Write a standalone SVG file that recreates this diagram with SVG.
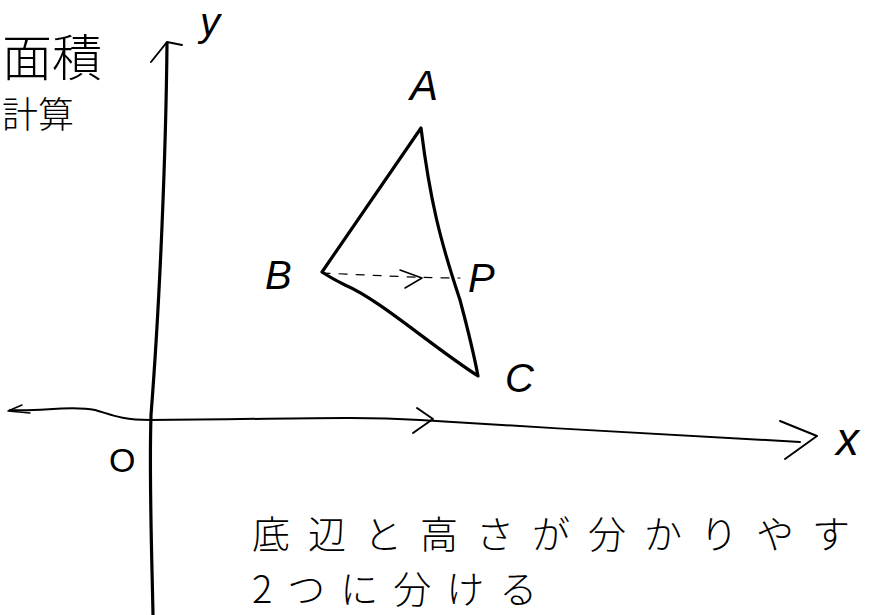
<svg xmlns="http://www.w3.org/2000/svg" width="880" height="615" viewBox="0 0 880 615">
<style>
.ln{fill:none;stroke:#000;stroke-linecap:round;stroke-linejoin:round}
.lbl{font-family:"Liberation Sans","Noto Sans CJK JP",sans-serif;fill:#000}
.jp{font-family:"Noto Sans CJK JP",sans-serif;fill:#000;font-weight:300}
</style>
<rect width="880" height="615" fill="#fff"/>
<g id="axes">
  <path class="ln" stroke-width="3.2" d="M167,43 C166,150 160,300 151,415 C149,480 152,560 153,615"/>
  <path class="ln" stroke-width="2" d="M151,62 L167,42 L182,45"/>
  <path class="ln" stroke-width="2" d="M10,410 C40,412 70,405 95,410 C110,414 120,420 150,420 C300,419 350,416 420,420 C550,428 650,434 800,442"/>
  <path class="ln" stroke-width="1.5" d="M22,405 L8,411 L30,413"/>
  <path class="ln" stroke-width="2" d="M417,408 L433,419 L413,433"/>
  <path class="ln" stroke-width="2" d="M780,421 L817,436 L785,459"/>
</g>
<g id="triangle">
  <path class="ln" stroke-width="3.2" d="M322,272 L421,128 C430,200 440,240 460,300 C468,330 474,355 478,376 C430,345 380,300 345,285 C335,280 328,276 322,272"/>
  <path class="ln" stroke-width="1.2" stroke-dasharray="8,9" d="M322,273 C370,275 420,278 460,278"/>
  <path class="ln" stroke-width="1.5" d="M400,270 L422,278 L405,288"/>
</g>
<g id="labels">
  <text class="lbl" x="410" y="100" font-size="42" font-style="italic">A</text>
  <text class="lbl" x="265" y="289" font-size="40" font-style="italic">B</text>
  <text class="lbl" x="468" y="292" font-size="40" font-style="italic">P</text>
  <text class="lbl" x="505" y="392" font-size="40" font-style="italic">C</text>
  <text class="lbl" x="109" y="472" font-size="34">O</text>
  <text class="lbl" x="200" y="36" font-size="40" font-style="italic">y</text>
  <text class="lbl" x="836" y="455" font-size="46" font-style="italic">x</text>
</g>
<g id="notes">
  <text class="jp" x="252" y="548" font-size="38" letter-spacing="18">底辺と高さが分かりやす</text>
  <text class="jp" x="252" y="603" font-size="38" letter-spacing="15">2つに分ける</text>
  <text class="jp" x="2" y="76" font-size="50">面積</text>
  <text class="jp" x="2" y="128" font-size="36">計算</text>
</g>
</svg>
